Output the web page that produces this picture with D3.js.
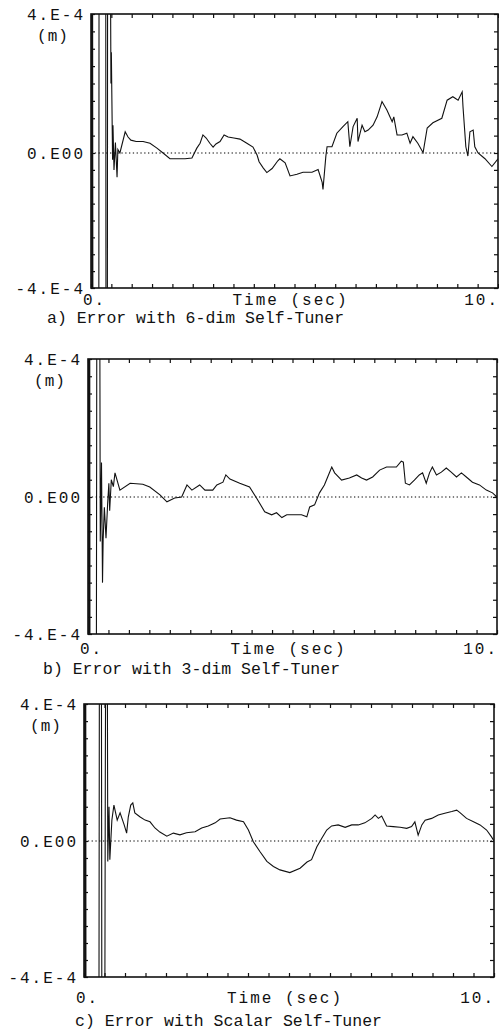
<!DOCTYPE html>
<html>
<head>
<meta charset="utf-8">
<script src="https://cdn.jsdelivr.net/npm/d3@7"></script>
<style>
body { margin: 0; background: #fff; }
text { font-family: "Liberation Mono", "DejaVu Sans Mono", monospace; fill: #111; }
</style>
</head>
<body>
<div id="chart"></div>
<script>
// tracking error, [time (sec), error in units of 1e-4 m]; values beyond +-4 run off the frame
const errSixDim = [[0,0],[0.01,10],[0.02,-10],[0.035,10],[0.05,-10],[0.19,-10],[0.2,10],[0.36,10],[0.37,-10],[0.4,-10],[0.41,10],[0.46,10],[0.49,2.0],[0.5,2.9],[0.53,-0.2],[0.54,0.8],[0.565,-0.5],[0.6,0.3],[0.64,-0.72],[0.66,0.1],[0.71,0.0],[0.84,0.61],[0.91,0.46],[0.98,0.37],[1.11,0.33],[1.28,0.33],[1.45,0.28],[1.62,0.14],[1.77,0.0],[1.94,-0.17],[2.14,-0.17],[2.31,-0.17],[2.48,-0.15],[2.6,0.14],[2.68,0.28],[2.75,0.52],[2.83,0.43],[2.92,0.28],[3.0,0.17],[3.07,0.26],[3.17,0.33],[3.27,0.52],[3.37,0.46],[3.51,0.43],[3.66,0.40],[3.83,0.28],[3.98,0.17],[4.08,-0.06],[4.13,-0.26],[4.23,-0.44],[4.32,-0.58],[4.45,-0.46],[4.59,-0.23],[4.64,-0.17],[4.77,-0.29],[4.89,-0.68],[5.06,-0.63],[5.21,-0.57],[5.43,-0.57],[5.58,-0.49],[5.68,-0.87],[5.70,-1.08],[5.77,-0.1],[5.80,0.18],[5.92,0.18],[6.04,0.57],[6.19,0.76],[6.31,0.9],[6.36,0.18],[6.44,0.76],[6.54,1.0],[6.56,0.33],[6.66,0.8],[6.73,0.61],[6.81,0.66],[6.93,0.8],[7.03,1.04],[7.15,1.48],[7.27,1.24],[7.40,0.9],[7.44,1.04],[7.52,0.52],[7.64,0.52],[7.76,0.57],[7.84,0.28],[7.91,0.47],[8.03,0.28],[8.16,0.01],[8.26,0.72],[8.40,0.87],[8.62,1.0],[8.75,1.52],[8.89,1.62],[9.02,1.52],[9.12,1.76],[9.14,1.33],[9.21,0.18],[9.26,-0.09],[9.31,0.61],[9.39,0.66],[9.43,0.18],[9.51,0.0],[9.68,-0.17],[9.85,-0.4],[10.0,-0.17]];

const errThreeDim = [[0,0],[0.01,10],[0.02,-10],[0.04,10],[0.05,-10],[0.2,-10],[0.22,10],[0.28,10],[0.3,-1.3],[0.33,1.0],[0.355,-2.5],[0.37,-1.25],[0.40,-0.3],[0.44,-1.2],[0.48,-0.2],[0.51,0.4],[0.53,-0.4],[0.57,0.5],[0.62,0.3],[0.66,0.7],[0.78,0.2],[1.03,0.4],[1.34,0.37],[1.51,0.29],[1.76,0.06],[1.93,-0.14],[2.12,-0.03],[2.29,0],[2.42,0.35],[2.54,0.2],[2.73,0.35],[2.86,0.2],[3.05,0.2],[3.15,0.35],[3.30,0.43],[3.37,0.64],[3.47,0.52],[3.71,0.4],[3.95,0.29],[4.12,-0.03],[4.32,-0.43],[4.49,-0.52],[4.61,-0.46],[4.74,-0.6],[4.86,-0.52],[5.0,-0.52],[5.22,-0.52],[5.35,-0.58],[5.42,-0.29],[5.54,-0.23],[5.66,0.12],[5.78,0.35],[5.86,0.58],[5.96,0.87],[6.03,0.7],[6.20,0.49],[6.39,0.55],[6.57,0.64],[6.69,0.55],[6.81,0.49],[6.96,0.58],[7.13,0.78],[7.30,0.87],[7.54,0.87],[7.66,1.04],[7.71,1.01],[7.76,0.4],[7.86,0.35],[7.98,0.49],[8.10,0.64],[8.18,0.7],[8.27,0.4],[8.35,0.7],[8.42,0.87],[8.52,0.64],[8.64,0.72],[8.76,0.84],[8.88,0.72],[9.01,0.58],[9.13,0.7],[9.25,0.58],[9.40,0.43],[9.57,0.35],[9.74,0.2],[9.89,0.12],[10,0]];

const errScalar = [[0,0],[0.01,10],[0.02,-10],[0.04,10],[0.05,-10],[0.36,-10],[0.38,10],[0.42,10],[0.44,-10],[0.5,-10],[0.52,2.0],[0.54,10],[0.56,10],[0.58,-0.6],[0.61,1.0],[0.63,-0.55],[0.68,0.61],[0.73,1.05],[0.81,0.61],[0.88,0.82],[0.98,0.47],[1.04,0.23],[1.08,0.7],[1.14,1.05],[1.19,1.11],[1.24,0.82],[1.37,0.7],[1.49,0.61],[1.61,0.56],[1.73,0.38],[1.85,0.26],[2.02,0.14],[2.18,0.23],[2.34,0.18],[2.50,0.24],[2.71,0.27],[2.87,0.38],[3.03,0.44],[3.20,0.53],[3.32,0.64],[3.56,0.68],[3.72,0.61],[3.89,0.56],[4.01,0.32],[4.13,-0.02],[4.29,-0.31],[4.46,-0.6],[4.62,-0.75],[4.78,-0.85],[5.02,-0.93],[5.27,-0.8],[5.44,-0.62],[5.55,-0.55],[5.68,-0.17],[5.80,0.08],[5.92,0.32],[6.04,0.44],[6.20,0.47],[6.37,0.4],[6.53,0.47],[6.69,0.47],[6.85,0.53],[7.02,0.66],[7.10,0.76],[7.18,0.66],[7.26,0.73],[7.38,0.44],[7.54,0.42],[7.71,0.4],[7.87,0.37],[7.99,0.42],[8.07,0.56],[8.15,0.17],[8.24,0.47],[8.32,0.61],[8.48,0.66],[8.64,0.76],[8.80,0.81],[8.97,0.86],[9.09,0.9],[9.17,0.83],[9.33,0.66],[9.50,0.56],[9.66,0.47],[9.82,0.32],[9.94,0.12],[10,0]];

const captions = ["a) Error with 6-dim Self-Tuner", "b) Error with 3-dim Self-Tuner", "c) Error with Scalar Self-Tuner"];
const yLabelValues = [4, 0, -4];
const yLabels = ["4.E-4", "0.E00", "-4.E-4"];
const unitLabel = "(m)";
const xLabels = ["0.", "10."];
const xTitle = "Time (sec)";
const xTicks = d3.range(0, 10.001, 0.5);
const yTicks = d3.range(-4, 4.001, 0.5);

const width = 499;
const height = 1030;

// frame boxes (each one is a bit skewed)
const layout = [
    { data: errSixDim, left: 91, right: 498, top: 14, zero: 153, bottom: 288, labelY: 299, captionX: 47, captionY: 317 },
    { data: errThreeDim, left: 88, right: 497, top: 359, zero: 497, bottom: 634, labelY: 648, captionX: 43, captionY: 668 },
    { data: errScalar, left: 84, right: 494, top: 704, zero: 841, bottom: 977, labelY: 997, captionX: 75, captionY: 1020 }
];

const svg = d3.select("#chart").append("svg").attr("width", width).attr("height", height);

layout.forEach((p, i) => {
    const x = d3.scaleLinear().domain([0, 10]).range([p.left, p.right]);
    // scan is not perfectly symmetric around zero, so use a three-stop scale
    const y = d3.scaleLinear().domain([-4, 0, 4]).range([p.bottom, p.zero, p.top]);

    const g = svg.append("g").attr("class", "panel");

    g.append("clipPath").attr("id", "clip" + i)
        .append("rect")
        .attr("x", p.left).attr("y", p.top)
        .attr("width", p.right - p.left).attr("height", p.bottom - p.top);

    // dotted zero line
    g.append("line")
        .attr("x1", p.left).attr("x2", p.right)
        .attr("y1", y(0)).attr("y2", y(0))
        .attr("stroke", "#000")
        .attr("stroke-width", 1.2)
        .attr("stroke-dasharray", "1.3,2.5");

    const line = d3.line().x(d => x(d[0])).y(d => y(d[1]));

    g.append("path")
        .datum(p.data)
        .attr("clip-path", `url(#clip${i})`)
        .attr("fill", "none")
        .attr("stroke", "#111")
        .attr("stroke-width", 1.1)
        .attr("d", line);

    // frame with inward ticks on all four sides
    const tickLen = -4;
    const axes = [
        [d3.axisTop(x).tickValues(xTicks), `translate(0,${p.top})`],
        [d3.axisBottom(x).tickValues(xTicks), `translate(0,${p.bottom})`],
        [d3.axisLeft(y).tickValues(yTicks), `translate(${p.left},0)`],
        [d3.axisRight(y).tickValues(yTicks), `translate(${p.right},0)`]
    ];
    axes.forEach(([ax, tr]) => {
        g.append("g")
            .attr("transform", tr)
            .call(ax.tickSize(tickLen).tickFormat(""))
            .call(a => a.select(".domain").remove())
            .selectAll("line").attr("stroke", "#111").attr("stroke-width", 1.2);
    });

    g.append("rect")
        .attr("x", p.left).attr("y", p.top)
        .attr("width", p.right - p.left).attr("height", p.bottom - p.top)
        .attr("fill", "none")
        .attr("stroke", "#111")
        .attr("stroke-width", 1.6);

    // y labels
    g.selectAll("text.ylab")
        .data(yLabelValues)
        .join("text")
        .attr("class", "ylab")
        .attr("x", p.left - 6)
        .attr("y", d => y(d))
        .attr("dy", "0.36em")
        .attr("text-anchor", "end")
        .attr("font-size", 16)
        .attr("letter-spacing", 2)
        .text((d, j) => yLabels[j]);

    g.append("text")
        .attr("x", p.left - 38)
        .attr("y", p.top + 21)
        .attr("dy", "0.36em")
        .attr("text-anchor", "middle")
        .attr("font-size", 16)
        .attr("letter-spacing", 1)
        .text(unitLabel);

    // x labels
    g.append("text")
        .attr("x", x(0) - 8)
        .attr("y", p.labelY)
        .attr("dy", "0.36em")
        .attr("font-size", 16)
        .attr("letter-spacing", 2)
        .text(xLabels[0]);

    g.append("text")
        .attr("x", x(10) + 1)
        .attr("y", p.labelY)
        .attr("dy", "0.36em")
        .attr("text-anchor", "end")
        .attr("font-size", 16)
        .attr("letter-spacing", 2)
        .text(xLabels[1]);

    g.append("text")
        .attr("x", (p.left + p.right) / 2 - 4)
        .attr("y", p.labelY)
        .attr("dy", "0.36em")
        .attr("text-anchor", "middle")
        .attr("font-size", 16)
        .attr("letter-spacing", 2)
        .text(xTitle);

    g.append("text")
        .attr("x", p.captionX)
        .attr("y", p.captionY)
        .attr("dy", "0.36em")
        .attr("font-size", 16.5)
        .text(captions[i]);
});
</script>
</body>
</html>
